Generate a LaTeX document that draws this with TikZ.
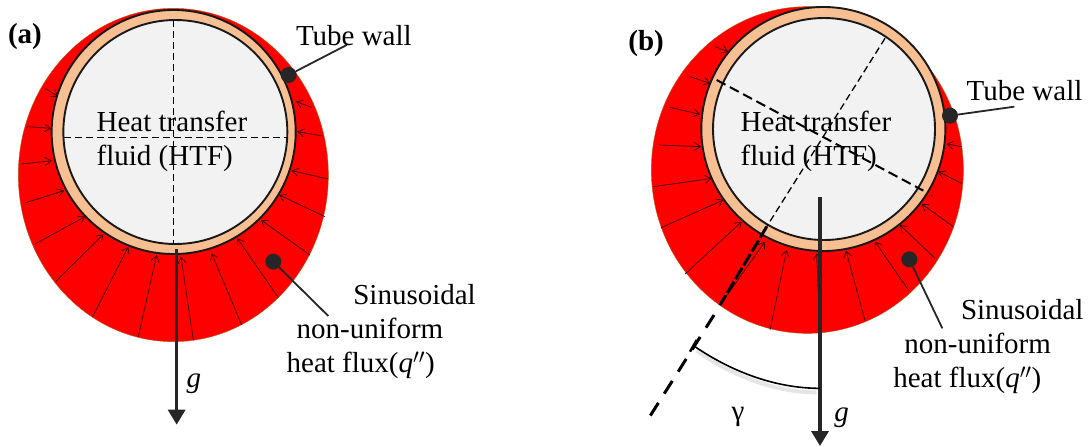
\documentclass[tikz,border=0pt]{standalone}
\usepackage{fontspec}
\setmainfont{Liberation Serif}
\usetikzlibrary{arrows.meta,shapes.geometric}
\definecolor{wallc}{HTML}{F8BF92}
\definecolor{fluidc}{HTML}{F2F2F2}
\definecolor{darkc}{HTML}{262626}
\definecolor{edgec}{HTML}{B05A10}
\tikzset{
  heatzone/.style={ellipse,fill=red,draw=edgec,line width=0.4pt,inner sep=0pt,outer sep=0pt},
  wallring/.style={circle,draw=black!90,fill=wallc,line width=1.9pt,inner sep=0pt,outer sep=0pt},
  fluidcore/.style={circle,draw=black!90,fill=fluidc,line width=1.9pt,inner sep=0pt,outer sep=0pt},
  fluxarrow/.style={draw=black!80!red,line width=0.7pt,-{Straight Barb[length=6pt,width=8pt]}},
  gravity/.style={draw=darkc,line width=3.4pt,-{Triangle[length=15pt,width=17pt]}},
  dashaxis/.style={draw=black,line width=1.6pt,dash pattern=on 7pt off 4pt},
  dashthin/.style={draw=black,line width=1.3pt,dash pattern=on 7pt off 4pt},
  dashnear/.style={draw=black,line width=3pt,dash pattern=on 13pt off 3pt},
  dashheavy/.style={draw=black,line width=3pt,dash pattern=on 15pt off 11pt},
  leader/.style={draw=darkc,line width=1.8pt},
  leaddot/.style={circle,fill=darkc,inner sep=0pt,minimum size=16pt},
  specdot/.style={circle,fill=black,inner sep=0pt,minimum size=1.8pt},
  lbl/.style={anchor=base west,inner sep=0pt,outer sep=0pt,font=\fontsize{29}{34}\selectfont},
}
\begin{document}
\begin{tikzpicture}[x=0.33333pt,y=-0.33333pt]
\useasboundingbox (0,0) rectangle (3267,1338);
% ---------- panel (a)
\begin{scope}
\node[heatzone,minimum width=310pt,minimum height=333.3pt] (fluxA) at (520,525) {};
\foreach \i/\sx/\sy/\ex/\ey in {
 1/135/265/175/290, 2/80/380/153/385, 3/65/492/155/482, 4/77/608/192/572,
 5/105/732/255/650, 6/168/843/310/703, 7/278/950/385/740, 8/415/1010/470/765,
 9/580/1020/543/770, 10/725/975/635/760, 11/835/893/712/715, 12/930/765/783/660,
 13/975/650/838/585, 14/985/537/875/512, 15/968/408/892/395, 16/935/322/888/305}{
 \coordinate (as\i) at (\sx,\sy);
 \coordinate (ae\i) at (\ex,\ey);
 \draw[fluxarrow] (as\i) -- (ae\i);
}
\node[wallring,minimum size=244pt] (tubeA) at (521,396) {};
\node[fluidcore,minimum size=224pt] (coreA) at (526,396) {};
\coordinate (a1) at (521,60); \coordinate (a2) at (521,733);
\coordinate (a3) at (192,412); \coordinate (a4) at (862,412);
\draw[dashaxis] (a1) -- (a2);
\draw[dashaxis] (a3) -- (a4);
\coordinate (ag1) at (530,748); \coordinate (ag2) at (530,1274);
\draw[gravity] (ag1) -- (ag2);
\node[leaddot] (dotA1) at (866,225) {};
\coordinate (la1) at (1040,135);
\draw[leader] (dotA1) -- (la1);
\node[leaddot] (dotA2) at (820,785) {};
\coordinate (la2) at (985,948);
\draw[leader] (dotA2) -- (la2);
\node[lbl,font=\fontsize{29}{34}\selectfont\bfseries] (labA) at (24,130) {(a)};
\node[lbl] (twA) at (888,136) {Tube wall};
\node[lbl] (htA) at (290,393) {Heat transfer};
\node[lbl] (hfA) at (290,495) {fluid (HTF)};
\node[lbl] (s1A) at (1060,913) {Sinusoidal};
\node[lbl] (s2A) at (890,1015) {non-uniform};
\node[lbl] (s3A) at (860,1117) {heat flux(\textit{q}$''$)};
\node[lbl] (gA) at (560,1163) {\textit{g}};
\end{scope}
% ---------- panel (b)
\begin{scope}[xshift=600pt]
\node[heatzone,minimum width=312pt,minimum height=326.7pt] (fluxB) at (622,510) {};
\foreach \i/\sx/\sy/\ex/\ey in {
 1/345/140/385/155, 2/270/230/330/250, 3/210/322/300/343, 4/178/435/303/440,
 5/160/560/335/535, 6/183/683/370/600, 7/255/822/425/665, 8/360/915/495/725,
 9/510/990/560/750, 10/660/1000/650/760, 11/795/962/738/752, 12/925/870/825/725,
 13/1005/775/900/675, 14/1060/680/965/612, 15/1085/550/1015/515, 16/1085/440/1040/432}{
 \coordinate (bs\i) at (\sx,\sy);
 \coordinate (be\i) at (\ex,\ey);
 \draw[fluxarrow] (bs\i) -- (be\i);
}
\node[wallring,minimum size=244pt] (tubeB) at (670,387) {};
\node[fluidcore,minimum size=222pt] (coreB) at (672,387) {};
\coordinate (b1) at (855,115); \coordinate (b2) at (500,680); \coordinate (b2m) at (360,915);
\coordinate (b2n) at (342,945); \coordinate (b3) at (135,1272);
\coordinate (b4) at (350,240); \coordinate (b5) at (970,572);
\draw[dashthin] (b1) -- (b2);
\draw[dashnear] (b2) -- (b2m);
\draw[dashheavy] (b2n) -- (b3);
\draw[draw=black,line width=2pt,dash pattern=on 10pt off 5pt] (b4) -- (b5);
\node[specdot] (spec) at (995,587) {};
\coordinate (bg1) at (660,590); \coordinate (bg2) at (660,1338);
\draw[gravity] (bg1) -- (bg2);
% angle arc with its soft shadow
\coordinate (c1) at (285,1040); \coordinate (c2) at (660,1165);
\coordinate (c3) at (290,1052); \coordinate (c4) at (650,1177);
\draw[black!10,line width=4pt] (c3) .. controls (400,1130) and (530,1177) .. (c4);
\draw[black,line width=1.6pt] (c1) .. controls (400,1118) and (530,1165) .. (c2);
\coordinate (t1) at (290,1020); \coordinate (t2) at (270,1055);
\draw[black,line width=2.4pt] (t1) -- (t2);
\node[leaddot] (dotB1) at (1050,347) {};
\coordinate (lb1) at (1243,320);
\draw[leader] (dotB1) -- (lb1);
\node[leaddot] (dotB2) at (928,778) {};
\coordinate (lb2) at (1027,985);
\draw[leader] (dotB2) -- (lb2);
\node[lbl,font=\fontsize{29}{34}\selectfont\bfseries] (labB) at (85,150) {(b)};
\node[lbl] (twB) at (1100,302) {Tube wall};
\node[lbl] (htB) at (422,393) {Heat transfer};
\node[lbl] (hfB) at (422,495) {fluid (HTF)};
\node[lbl] (s1B) at (1083,958) {Sinusoidal};
\node[lbl] (s2B) at (913,1060) {non-uniform};
\node[lbl] (s3B) at (880,1162) {heat flux(\textit{q}$''$)};
\node[lbl] (gamB) at (395,1262) {γ};
\node[lbl] (gB) at (703,1265) {\textit{g}};
\end{scope}
\end{tikzpicture}
\end{document}
